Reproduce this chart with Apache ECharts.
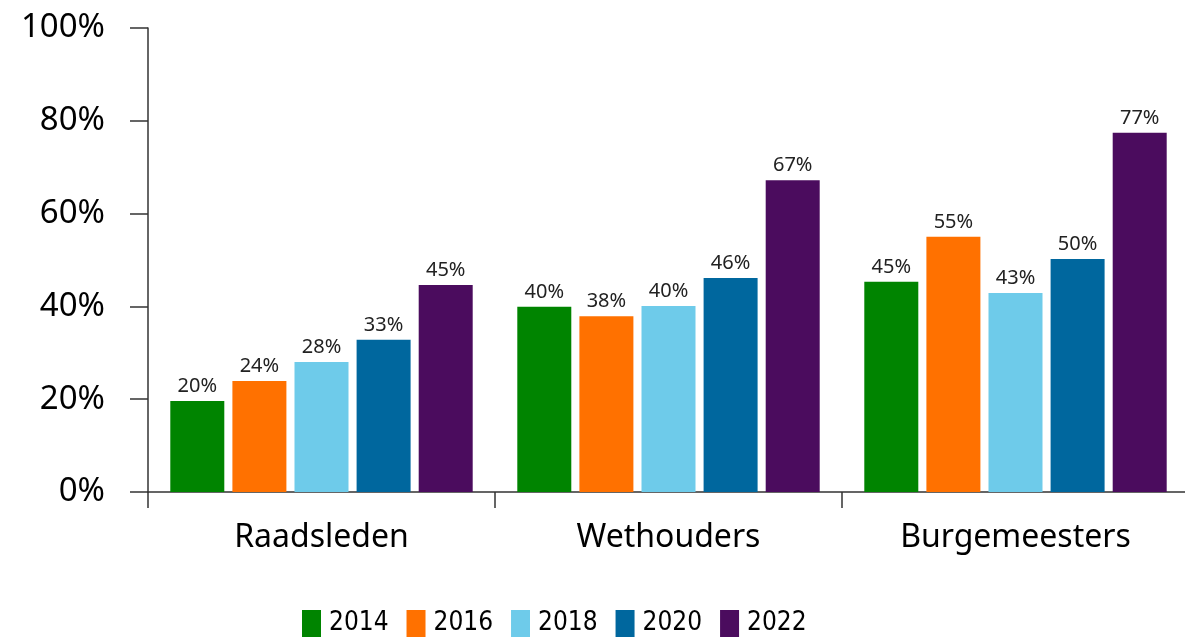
<!DOCTYPE html>
<html><head><meta charset="utf-8">
<script src="https://cdn.jsdelivr.net/npm/echarts@6/dist/echarts.min.js"></script>
<style>html,body{margin:0;padding:0;background:#fff}#c{width:1185px;height:637px}</style>
</head><body><div id="c"></div>
<script>
const categories = ['Raadsleden', 'Wethouders', 'Burgemeesters'];
const years = ['2014', '2016', '2018', '2020', '2022'];
const v2014 = [19.6, 39.9, 45.3];
const v2016 = [23.9, 37.9, 55.0];
const v2018 = [28.0, 40.1, 42.9];
const v2020 = [32.8, 46.1, 50.2];
const v2022 = [44.6, 67.2, 77.4];
const yTicks = [0, 20, 40, 60, 80, 100];
const colors = ['#008400', '#FF7100', '#6ECBEA', '#00679E', '#4B0C5E'];
const seriesValues = [v2014, v2016, v2018, v2020, v2022];

const chart = echarts.init(document.getElementById('c'));
chart.setOption({
  animation: false,
  textStyle: { fontFamily: 'Noto Sans' },
  grid: { left: 148, top: 28, width: 1041, height: 464, outerBoundsMode: 'none', containLabel: false },
  legend: {
    left: 302, top: 610, padding: 0,
    itemWidth: 19, itemHeight: 27, itemGap: 18,
    icon: 'rect',
    textStyle: { fontFamily: '"DejaVu Sans Condensed", "Noto Sans"', fontSize: 26, color: '#000', padding: [0,0,0,3] },
    data: years
  },
  xAxis: {
    type: 'category', data: categories,
    axisLine: { lineStyle: { color: '#333', width: 1.5 } },
    axisTick: { show: true, length: 16, lineStyle: { color: '#333', width: 1.5 } },
    axisLabel: { fontSize: 32, color: '#000', margin: 30, fontFamily: 'Noto Sans' }
  },
  yAxis: {
    type: 'value', min: 0, max: 100, interval: 20,
    splitLine: { show: false },
    axisLine: { show: true, lineStyle: { color: '#333', width: 1.5 } },
    axisTick: { show: true, length: 18, lineStyle: { color: '#333', width: 1.5 } },
    axisLabel: { fontSize: 33, color: '#000', margin: 43, fontFamily: 'Noto Sans',
      formatter: v => yTicks.includes(v) ? v + '%' : '' }
  },
  series: years.map((y, i) => ({
    name: y, type: 'bar', data: seriesValues[i],
    barWidth: 54, barGap: '15%',
    itemStyle: { color: colors[i] },
    label: { show: true, position: 'top', distance: 5, fontSize: 20, color: '#222', fontFamily: 'Noto Sans',
      formatter: p => Math.round(p.value) + '%' }
  }))
});
</script></body></html>
